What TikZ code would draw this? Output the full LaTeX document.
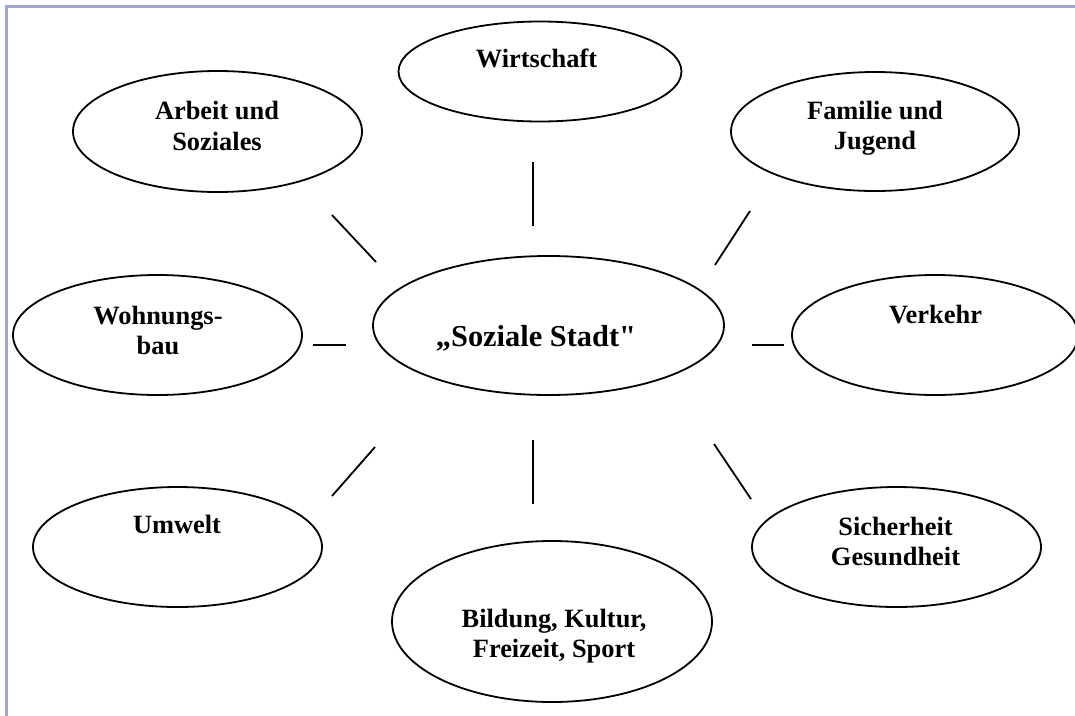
\documentclass[tikz,border=0pt]{standalone}
\usepackage{fontspec}
\setmainfont{Liberation Serif}[Ligatures=TeXOff]
\usetikzlibrary{shapes.geometric}
\definecolor{framecol}{RGB}{158,166,214}
\begin{document}
\begin{tikzpicture}[x=1pt,y=-1pt,
  oval/.style={draw=black,line width=1.8pt,ellipse,inner sep=0pt,outer sep=0pt},
  lbl/.style={inner sep=0pt,anchor=base,align=center,font=\fontsize{26.4}{30.5}\selectfont\bfseries},
  biglbl/.style={inner sep=0pt,anchor=base,font=\fontsize{30.4}{36}\selectfont\bfseries},
  link/.style={draw=black,line width=1.8pt},
  framebar/.style={draw=framecol,line width=3pt}]
\useasboundingbox (0,0) rectangle (1075,715);
\clip (0,0) rectangle (1075,715);
\fill[white] (0,0) rectangle (1075,715);
% frame
\coordinate (fTL) at (6,6);
\coordinate (fTR) at (1080,6);
\coordinate (fBL) at (6,720);
\draw[framebar] (fTR) -- (fTL) -- (fBL);
% ellipses
\node[oval,minimum width=283pt,minimum height=100pt] (wirt) at (540,71.5) {};
\node[oval,minimum width=289pt,minimum height=121pt] (arb) at (217.5,131.5) {};
\node[oval,minimum width=288pt,minimum height=119pt] (fam) at (875,131.5) {};
\node[oval,minimum width=289pt,minimum height=120pt] (wohn) at (157.5,335) {};
\node[oval,minimum width=351pt,minimum height=139pt] (stadt) at (548.5,325.5) {};
\node[oval,minimum width=286pt,minimum height=120pt] (verk) at (935,335) {};
\node[oval,minimum width=289pt,minimum height=120pt] (umw) at (177.5,547) {};
\node[oval,minimum width=320pt,minimum height=161pt] (bild) at (552,621.5) {};
\node[oval,minimum width=289pt,minimum height=120pt] (sich) at (896.5,547) {};
% labels (base anchor of a two-line label = baseline of its last line)
\node[lbl] (twirt) at (536.5,67) {Wirtschaft};
\node[lbl] (tarb) at (217,150) {Arbeit und\\Soziales};
\node[lbl] (tfam) at (875,149.5) {Familie und\\Jugend};
\node[lbl] (twohn) at (158,354.5) {Wohnungs-\\bau};
\node[biglbl] (tstadt) at (536,346) {„Soziale Stadt"};
\node[lbl] (tverk) at (935.5,323) {Verkehr};
\node[lbl] (tumw) at (177,533) {Umwelt};
\node[lbl] (tbild) at (554,657.5) {Bildung, Kultur,\\Freizeit, Sport};
\node[lbl] (tsich) at (895.5,565.5) {Sicherheit\\Gesundheit};
% connectors
\coordinate (a1) at (332,215); \coordinate (a2) at (376,262);
\coordinate (w1) at (533,162); \coordinate (w2) at (533,226);
\coordinate (f1) at (750,211); \coordinate (f2) at (715,265);
\coordinate (h1) at (313,345); \coordinate (h2) at (346,345);
\coordinate (v1) at (752,345); \coordinate (v2) at (784,345);
\coordinate (u1) at (375,447); \coordinate (u2) at (332,496);
\coordinate (b1) at (533,440); \coordinate (b2) at (533,504);
\coordinate (s1) at (714,444); \coordinate (s2) at (751,499);
\draw[link] (a1) -- (a2);
\draw[link] (w1) -- (w2);
\draw[link] (f1) -- (f2);
\draw[link] (h1) -- (h2);
\draw[link] (v1) -- (v2);
\draw[link] (u1) -- (u2);
\draw[link] (b1) -- (b2);
\draw[link] (s1) -- (s2);
\end{tikzpicture}
\end{document}
